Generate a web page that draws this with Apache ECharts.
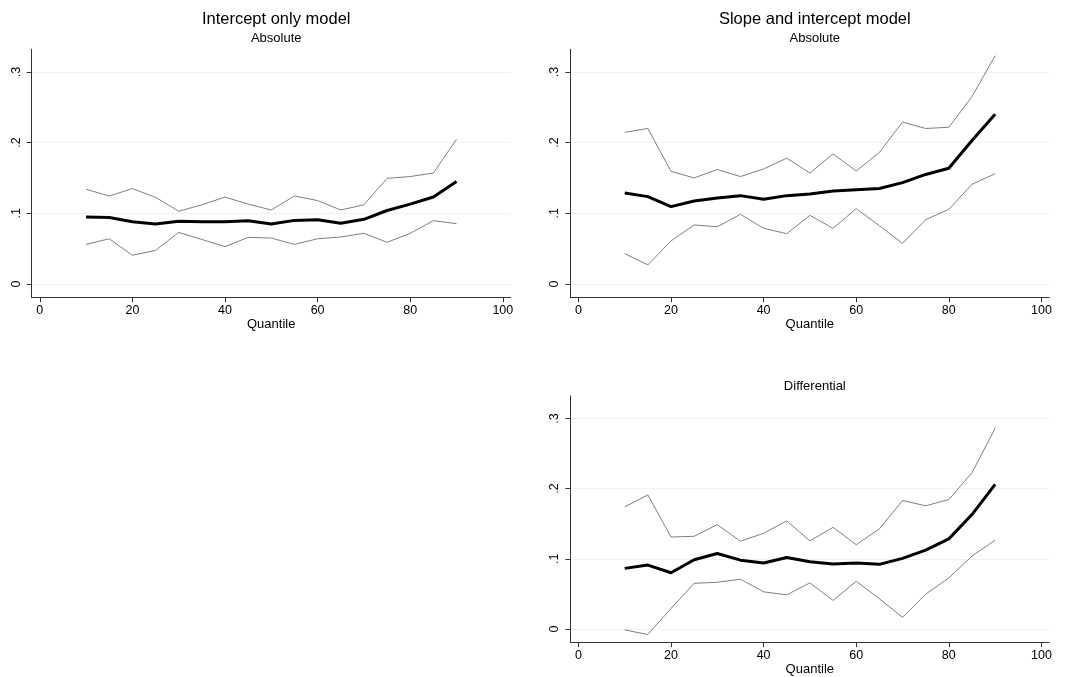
<!DOCTYPE html>
<html>
<head>
<meta charset="utf-8">
<script src="https://cdn.jsdelivr.net/npm/echarts@6/dist/echarts.min.js"></script>
<style>
html,body{margin:0;padding:0;background:#fff;}
#chart{width:1066px;height:677px;}
</style>
</head>
<body>
<div id="chart"></div>
<script>
// ---- data ----
const quantiles = [10,15,20,25,30,35,40,45,50,55,60,65,70,75,80,85,90];
const xTicks = [0,20,40,60,80,100];
const yTicks = [0,0.1,0.2,0.3];

// Panel 1: Intercept only model, Absolute
const p1Est   = [0.0948,0.094,0.088,0.085,0.0887,0.088,0.088,0.0896,0.085,0.090,0.091,0.086,0.0915,0.104,0.113,0.123,0.145];
const p1Upper = [0.134,0.1245,0.135,0.1226,0.103,0.112,0.123,0.113,0.1047,0.1245,0.118,0.1047,0.112,0.1495,0.152,0.157,0.2047];
const p1Lower = [0.056,0.064,0.0406,0.0476,0.073,0.063,0.0528,0.066,0.065,0.056,0.064,0.0665,0.0717,0.059,0.0717,0.0896,0.0854];

// Panel 2: Slope and intercept model, Absolute
const p2Est   = [0.1288,0.1236,0.1094,0.1175,0.1217,0.125,0.120,0.125,0.1274,0.1316,0.1335,0.135,0.1434,0.155,0.1637,0.203,0.240];
const p2Upper = [0.2146,0.220,0.1594,0.150,0.162,0.152,0.1627,0.178,0.157,0.184,0.160,0.186,0.229,0.220,0.2217,0.265,0.323];
const p2Lower = [0.043,0.027,0.061,0.0835,0.081,0.0986,0.0788,0.0712,0.097,0.0788,0.1066,0.0825,0.0575,0.091,0.1057,0.141,0.156];

// Panel 3: Slope and intercept model, Differential
const p3Est   = [0.0863,0.091,0.080,0.0986,0.1075,0.098,0.0939,0.1019,0.0958,0.0925,0.0939,0.092,0.1005,0.1123,0.1283,0.163,0.206];
const p3Upper = [0.174,0.191,0.131,0.132,0.1486,0.125,0.1363,0.154,0.1255,0.1448,0.120,0.1425,0.183,0.1755,0.1844,0.2226,0.286];
const p3Lower = [-0.0014,-0.008,0.0292,0.065,0.0665,0.0708,0.0528,0.0486,0.0656,0.0406,0.0679,0.043,0.0165,0.0495,0.0726,0.1038,0.1264];

const titles = [
  {text:'Intercept only model', sub:'Absolute'},
  {text:'Slope and intercept model', sub:'Absolute'},
  {text:'', sub:'Differential'}
];

// ---- chart ----
const FONT = '"Liberation Sans", Arial, sans-serif';
const pairs = arr => quantiles.map((q,i)=>[q,arr[i]]);
const fmtY = v => {
  if (Math.abs(v) < 1e-9) return '0';
  return String(Math.round(v*10)/10).replace(/^0/, '');
};

const grids = [
  {left:31.7, width:479, top:49.3, height:248},
  {left:570.3, width:479, top:49.3, height:248},
  {left:570.3, width:479, top:396, height:248.7}
];

function xAxisFor(i){
  return {
    gridIndex:i, type:'value', min:-1.75, max:101.7,
    name:'Quantile', nameLocation:'middle', nameGap:19,
    nameTextStyle:{fontFamily:FONT, fontSize:13, color:'#000'},
    axisLine:{show:true, onZero:false, lineStyle:{color:'#333', width:1}},
    axisTick:{show:true, length:5, customValues:xTicks, lineStyle:{color:'#333'}},
    axisLabel:{customValues:xTicks, margin:7, fontFamily:FONT, fontSize:12.5, color:'#000'},
    splitLine:{show:false}
  };
}
function yAxisFor(i){
  return {
    gridIndex:i, type:'value', min:-0.0188, max:0.332,
    axisLine:{show:true, onZero:false, lineStyle:{color:'#333', width:1}},
    axisTick:{show:true, length:5, customValues:yTicks, lineStyle:{color:'#333'}},
    axisLabel:{customValues:yTicks, rotate:90, margin:9, fontFamily:FONT, fontSize:12.5, color:'#000', formatter:fmtY},
    splitLine:{show:true, lineStyle:{color:'#eaf2f3', width:1}}
  };
}

const panels = [[p1Est,p1Upper,p1Lower],[p2Est,p2Upper,p2Lower],[p3Est,p3Upper,p3Lower]];
const series = [];
panels.forEach((p,i)=>{
  [p[1],p[2]].forEach(arr=>{
    series.push({type:'line', xAxisIndex:i, yAxisIndex:i, data:pairs(arr), showSymbol:false, symbol:'none',
      lineStyle:{color:'#7f7f7f', width:1}, silent:true, animation:false, z:2});
  });
  series.push({type:'line', xAxisIndex:i, yAxisIndex:i, data:pairs(p[0]), showSymbol:false, symbol:'none',
    lineStyle:{color:'#000', width:3}, silent:true, animation:false, z:3});
});

const tStyle = {fontFamily:FONT, fontSize:16.5, fontWeight:'normal', color:'#000'};
const sStyle = {fontFamily:FONT, fontSize:13, fontWeight:'normal', color:'#000'};
const titleOpts = [
  {text:titles[0].text, left:271.2, top:6, textAlign:'center', textStyle:tStyle},
  {text:titles[0].sub, left:271.2, top:27, textAlign:'center', textStyle:sStyle},
  {text:titles[1].text, left:809.8, top:6, textAlign:'center', textStyle:tStyle},
  {text:titles[1].sub, left:809.8, top:27, textAlign:'center', textStyle:sStyle},
  {text:titles[2].sub, left:809.8, top:375, textAlign:'center', textStyle:sStyle}
];

const chart = echarts.init(document.getElementById('chart'), null, {renderer:'canvas'});
chart.setOption({
  backgroundColor:'#fff',
  animation:false,
  title:titleOpts,
  grid:grids,
  xAxis:[0,1,2].map(xAxisFor),
  yAxis:[0,1,2].map(yAxisFor),
  series:series
});
</script>
</body>
</html>
